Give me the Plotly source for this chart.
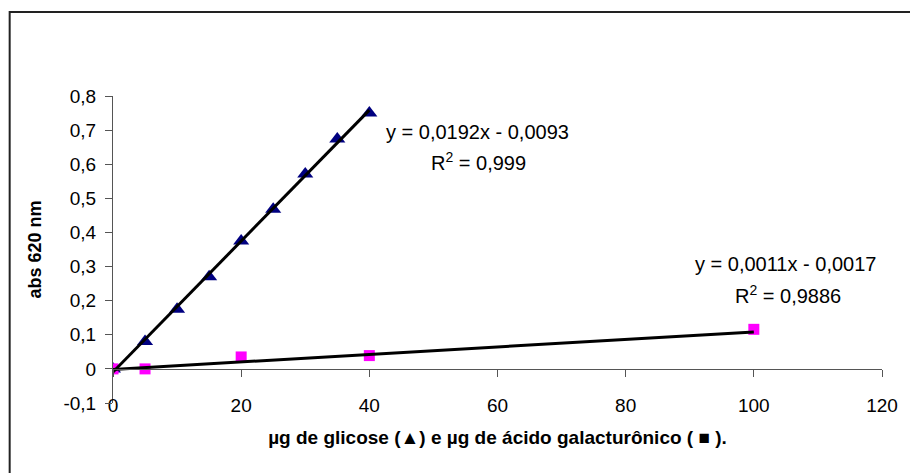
import plotly.graph_objects as go

# ---- data ----
glicose_x = [0, 5, 10, 15, 20, 25, 30, 35, 40]
glicose_y = [0.0, 0.080, 0.175, 0.270, 0.375, 0.468, 0.571, 0.674, 0.750]

galact_x = [0, 5, 20, 40, 100]
galact_y = [0.0, 0.0, 0.035, 0.039, 0.116]

# trendline coefficients (slope, intercept) as printed on chart
fit_glicose = [0.0192, -0.0093]
fit_galact = [0.0011, -0.0017]
r2_glicose = "0,999"
r2_galact = "0,9886"

x_ticks = [0, 20, 40, 60, 80, 100, 120]
y_ticks = [-0.1, 0, 0.1, 0.2, 0.3, 0.4, 0.5, 0.6, 0.7, 0.8]
y_ticktext = ["-0,1", "0", "0,1", "0,2", "0,3", "0,4", "0,5", "0,6", "0,7", "0,8"]

x_range = [0, 120]
y_range = [-0.1, 0.8]

FONT = "Liberation Sans, Arial, sans-serif"
AXC = "#555555"

def fit_line(xs, coef):
    xx = [min(xs), max(xs)]
    return xx, [coef[0] * v + coef[1] for v in xx]

def fmt(v):
    return ("%.4f" % abs(v)).replace(".", ",")

fig = go.Figure()

fig.add_trace(go.Scatter(x=glicose_x, y=glicose_y, mode="markers",
                         marker=dict(symbol="triangle-up", size=14, color="#000080"),
                         showlegend=False))
fig.add_trace(go.Scatter(x=galact_x, y=galact_y, mode="markers",
                         marker=dict(symbol="square", size=11, color="#FF00FF"),
                         showlegend=False))

gx, gy = fit_line(glicose_x, fit_glicose)
fig.add_trace(go.Scatter(x=gx, y=gy, mode="lines", xaxis="x2",
                         line=dict(color="black", width=3), showlegend=False))
ax, ay = fit_line(galact_x, fit_galact)
fig.add_trace(go.Scatter(x=ax, y=ay, mode="lines", xaxis="x2",
                         line=dict(color="black", width=3), showlegend=False))

W, H = 910, 473
L, R, T, B = 113, 23, 96, 70
pw, ph = W - L - R, H - T - B

def px2paper(px, py):
    return (px - L) / pw, (H - B - py) / ph

bx0, by1 = px2paper(9, 12)
bx1, by0 = px2paper(925, 490)

eq_font = dict(family=FONT, size=20, color="black")
annotations = [
    dict(x=56.9, y=0.695, xref="x", yref="y", showarrow=False,
         text="y = %sx - %s" % (fmt(fit_glicose[0]), fmt(fit_glicose[1])), font=eq_font),
    dict(x=57.1, y=0.607, xref="x", yref="y", showarrow=False,
         text="R<sup>2</sup> = %s" % r2_glicose, font=eq_font),
    dict(x=104.9, y=0.308, xref="x", yref="y", showarrow=False,
         text="y = %sx - %s" % (fmt(fit_galact[0]), fmt(fit_galact[1])), font=eq_font),
    dict(x=105.3, y=0.217, xref="x", yref="y", showarrow=False,
         text="R<sup>2</sup> = %s" % r2_galact, font=eq_font),
]

fig.update_layout(
    width=W, height=H, autosize=False,
    margin=dict(l=L, r=R, t=T, b=B, pad=0),
    paper_bgcolor="white", plot_bgcolor="white",
    font=dict(family=FONT, size=19, color="black"),
    showlegend=False,
    xaxis=dict(range=x_range, tickvals=x_ticks, ticktext=[str(v) for v in x_ticks],
               showline=False, ticks="", showgrid=False, zeroline=False,
               ticklabelstandoff=-11,
               tickfont=dict(family=FONT, size=19, color="black"),
               title=dict(text="<b>µg de glicose (▲) e µg de ácido galacturônico ( ■ ).</b>",
                          font=dict(family=FONT, size=19, color="black"), standoff=15)),
    xaxis2=dict(range=x_range, overlaying="x", anchor="free",
                position=(0 - y_range[0]) / (y_range[1] - y_range[0]),
                tickvals=x_ticks, showticklabels=False, ticks="outside", ticklen=7,
                tickcolor=AXC, tickwidth=1, showline=True, linecolor=AXC, linewidth=1,
                showgrid=False, zeroline=False),
    yaxis=dict(range=y_range, tickvals=y_ticks, ticktext=y_ticktext,
               showline=True, linecolor=AXC, linewidth=1, ticks="outside", ticklen=7,
               tickcolor=AXC, tickwidth=1, showgrid=False, zeroline=False,
               ticklabelstandoff=5,
               tickfont=dict(family=FONT, size=19, color="black"),
               title=dict(text="<b>abs 620 nm</b>",
                          font=dict(family=FONT, size=18, color="black"), standoff=17)),
    annotations=annotations,
    shapes=[dict(type="rect", xref="paper", yref="paper", x0=bx0, x1=bx1, y0=by0, y1=by1,
                 line=dict(color="#222222", width=2), fillcolor="rgba(0,0,0,0)", layer="above")],
)

fig.write_html("out.html")
